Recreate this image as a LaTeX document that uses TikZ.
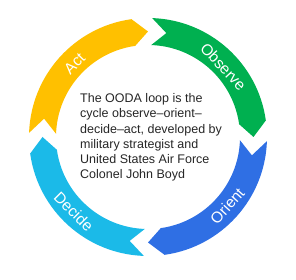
\documentclass[tikz,border=0pt]{standalone}
\usepackage{fontspec}
\setmainfont{Liberation Sans}
\usepackage{xcolor}
\definecolor{obsgreen}{RGB}{0,176,80}
\definecolor{oriblue}{RGB}{47,111,228}
\definecolor{deccyan}{RGB}{27,186,232}
\definecolor{actyellow}{RGB}{255,192,0}
\definecolor{txtdark}{RGB}{38,38,38}
\usepackage{tikz}
\usetikzlibrary{positioning}
\tikzset{
  seg/.style={draw=none},
  seglabel/.style={
    text=white, inner sep=0pt,
    font=\fontsize{15.5}{18}\selectfont},
  desc/.style={
    text=txtdark, align=left, inner sep=0pt,
    font=\fontsize{12.5}{15.3}\selectfont},
}

\begin{document}
\begin{tikzpicture}[x=1pt, y=1pt]
  \useasboundingbox (-148,-143) rectangle (148,137);
  \fill[seg, obsgreen] (88:119) arc[start angle=88, end angle=8, radius=119]
    -- (0:105.5) -- (8:92) arc[start angle=8, end angle=88, radius=92]
    -- (80:105.5) -- cycle;
  \fill[seg, oriblue] (-2:119) arc[start angle=-2, end angle=-82, radius=119]
    -- (-90:105.5) -- (-82:92) arc[start angle=-82, end angle=-2, radius=92]
    -- (-10:105.5) -- cycle;
  \fill[seg, deccyan] (-92:119) arc[start angle=-92, end angle=-172, radius=119]
    -- (-180:105.5) -- (-172:92) arc[start angle=-172, end angle=-92, radius=92]
    -- (-100:105.5) -- cycle;
  \fill[seg, actyellow] (178:119) arc[start angle=178, end angle=98, radius=119]
    -- (90:105.5) -- (98:92) arc[start angle=98, end angle=178, radius=92]
    -- (170:105.5) -- cycle;
  \node[seglabel, rotate=-47] (obs) at (43:103) {Observe};
  \node[seglabel, rotate=48] (ori) at (-41:105) {Orient};
  \node[seglabel, rotate=-45] (dec) at (-135:105) {Decide};
  \node[seglabel, rotate=45] (act) at (135:104) {Act};
  \node[desc, anchor=west] (txt) at (-68,-0.5)
    {The OODA loop is the\\cycle observe–orient–\\decide–act, developed by\\
     military strategist and\\United States Air Force\\Colonel John Boyd};
\end{tikzpicture}
\end{document}
